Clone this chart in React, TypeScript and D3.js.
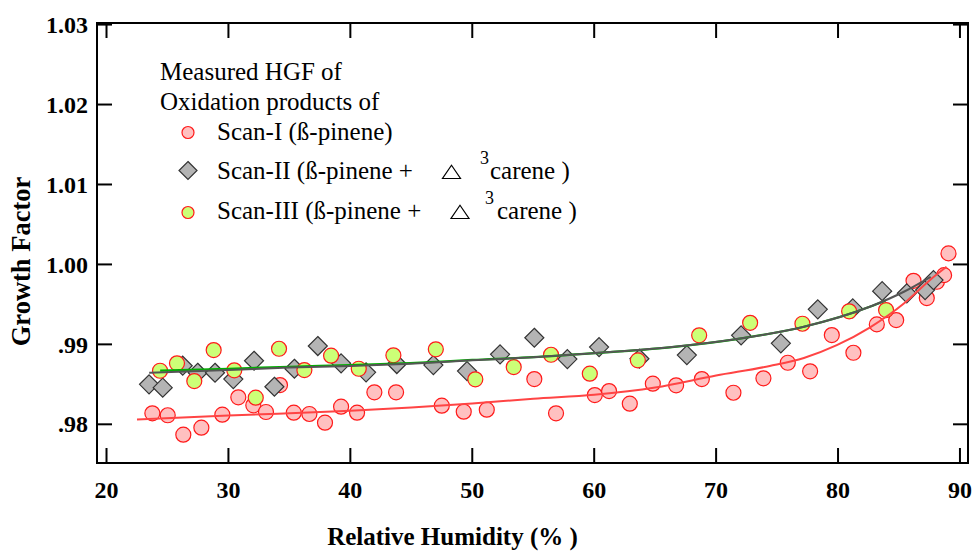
import React from "react";
import * as d3 from "d3";

// ---- data ----
const scan1X = [23.76, 25.02, 26.3, 27.78, 29.5, 30.81, 32.04, 33.08, 34.23, 35.36, 36.64, 37.92, 39.24, 40.55, 41.97, 43.75, 47.5, 49.3, 51.19, 55.09, 56.87, 60.05, 61.22, 62.92, 64.81, 66.72, 68.83, 71.42, 73.88, 75.88, 77.71, 79.49, 81.26, 83.18, 84.77, 86.19, 87.28, 88.11, 88.7, 89.06];
const scan1Y = [0.98138, 0.98113, 0.9787, 0.97958, 0.9812, 0.98338, 0.98238, 0.98154, 0.98491, 0.98145, 0.98129, 0.9802, 0.9822, 0.98145, 0.984, 0.984, 0.98233, 0.98158, 0.98183, 0.98566, 0.98138, 0.98366, 0.98416, 0.98258, 0.98508, 0.98488, 0.98566, 0.98395, 0.98575, 0.9877, 0.98663, 0.99116, 0.98895, 0.9925, 0.99304, 0.99795, 0.99579, 0.99783, 0.99866, 1.00138];

const scan2X = [23.49, 24.61, 26.25, 27.48, 28.9, 30.4, 32.1, 33.77, 35.41, 37.33, 39.24, 41.29, 43.81, 46.81, 49.57, 52.28, 55.09, 57.8, 60.4, 63.71, 67.6, 72.05, 75.31, 78.34, 81.21, 83.62, 85.64, 87.14, 87.83];
const scan2Y = [0.985, 0.98458, 0.98733, 0.98645, 0.98645, 0.98566, 0.98795, 0.9847, 0.98695, 0.98979, 0.98763, 0.9865, 0.98754, 0.98741, 0.98666, 0.98875, 0.99083, 0.98816, 0.98966, 0.9882, 0.98866, 0.99113, 0.99013, 0.99438, 0.9945, 0.99666, 0.99638, 0.99679, 0.99804];

const scan3X = [24.39, 25.78, 27.2, 28.79, 30.48, 32.24, 34.15, 36.23, 38.42, 40.69, 43.53, 47.01, 50.25, 53.4, 56.46, 59.64, 63.58, 68.61, 72.79, 77.08, 80.91, 83.94];
const scan3Y = [0.9867, 0.98763, 0.98541, 0.98929, 0.98675, 0.98333, 0.98945, 0.98679, 0.98858, 0.98695, 0.98863, 0.98938, 0.98563, 0.98716, 0.9887, 0.98633, 0.988, 0.99113, 0.9927, 0.99258, 0.99413, 0.99429];

const fit1X = [22.5, 30, 40, 45, 50, 55, 60, 65, 70, 74.4, 77.2, 79.9, 82.6, 85.4, 87.5, 88.9];
const fit1Y = [0.9806, 0.9811, 0.9817, 0.9821, 0.9826, 0.9832, 0.9837, 0.9846, 0.9861, 0.9873, 0.9883, 0.9899, 0.9921, 0.9951, 0.998, 0.9997];

const fit2X = [23.5, 30, 35, 40, 44.9, 50, 55, 60, 66.2, 71.7, 77.2, 82.6, 85.4, 87.6];
const fit2Y = [0.98645, 0.9868, 0.9871, 0.9873, 0.98758, 0.988, 0.98838, 0.9889, 0.98963, 0.99066, 0.9922, 0.9947, 0.99658, 0.99845];

const fit3X = [24.4, 30, 35, 40, 44.9, 50, 55, 60, 66.2, 71.7, 77.2, 82.6, 83.9];
const fit3Y = [0.98672, 0.98695, 0.9872, 0.9874, 0.98765, 0.98805, 0.9884, 0.9889, 0.98963, 0.99066, 0.9922, 0.9947, 0.9955];

const xTicks = [20, 30, 40, 50, 60, 70, 80, 90];
const yTicks = [0.98, 0.99, 1.0, 1.01, 1.02, 1.03];
const yTickLabels = [".98", ".99", "1.00", "1.01", "1.02", "1.03"];

const legendTitle = ["Measured HGF of", "Oxidation products of"];
const seriesNames = ["Scan-I (ß-pinene)", "Scan-II (ß-pinene +", "Scan-III (ß-pinene +"];

// ---- layout ----
const W = 974;
const H = 551;
const L = 97, R = 968, T = 23, B = 463;

const x = d3.scaleLinear().domain([19.22, 90.66]).range([L, R]);
const y = d3.scaleLinear().domain([0.97516, 1.0302]).range([B, T]);

const PINK = "#ffc0c0";
const RED = "#ff1a1a";
const GREEN = "#ccff77";
const GREY = "#b4b4b4";

const line = d3
  .line<[number, number]>()
  .x((d) => x(d[0]))
  .y((d) => y(d[1]))
  .curve(d3.curveMonotoneX);

const zip = (a: number[], b: number[]) => a.map((v, i) => [v, b[i]] as [number, number]);

const diamond = (cx: number, cy: number, s: number) =>
  `M${cx},${cy - s}L${cx + s},${cy}L${cx},${cy + s}L${cx - s},${cy}Z`;

const serif = "'Liberation Serif', 'Times New Roman', serif";

function Triangle({ cx, cy }: { cx: number; cy: number }) {
  const s = 9;
  return (
    <path
      d={`M${cx},${cy - s * 0.75}L${cx + s},${cy + s * 0.72}L${cx - s},${cy + s * 0.72}Z`}
      fill="none"
      stroke="#000"
      strokeWidth={1.2}
    />
  );
}

export default function App() {
  const p1 = zip(scan1X, scan1Y);
  const p2 = zip(scan2X, scan2Y);
  const p3 = zip(scan3X, scan3Y);
  return (
    <svg
      width={W}
      height={H}
      style={{ position: "absolute", left: 0, top: 0, background: "#fff" }}
      fontFamily={serif}
    >
      <rect x={0} y={0} width={W} height={H} fill="#fff" />
      {/* points */}
      {p1.map((d, i) => (
        <circle key={"a" + i} cx={x(d[0])} cy={y(d[1])} r={7.5} fill={PINK} stroke={RED} strokeWidth={1.2} />
      ))}
      {p2.map((d, i) => (
        <path key={"b" + i} d={diamond(x(d[0]), y(d[1]), 9.5)} fill={GREY} stroke="#333" strokeWidth={1.2} />
      ))}
      {p3.map((d, i) => (
        <circle key={"c" + i} cx={x(d[0])} cy={y(d[1])} r={7.5} fill={GREEN} stroke={RED} strokeWidth={1.2} />
      ))}
      {/* fits */}
      <path d={line(zip(fit1X, fit1Y)) || ""} fill="none" stroke="#ff4444" strokeWidth={2} />
      <path d={line(zip(fit3X, fit3Y)) || ""} fill="none" stroke="#00b000" strokeWidth={2.2} />
      <path d={line(zip(fit2X, fit2Y)) || ""} fill="none" stroke="#555" strokeWidth={2} />

      {/* frame */}
      <rect x={L} y={T} width={R - L} height={B - T} fill="none" stroke="#000" strokeWidth={2} />
      {xTicks.map((t) => (
        <g key={"xt" + t}>
          <line x1={x(t)} x2={x(t)} y1={B} y2={B - 15} stroke="#000" strokeWidth={2} />
          <line x1={x(t)} x2={x(t)} y1={T} y2={T + 15} stroke="#000" strokeWidth={2} />
          <text x={x(t)} y={498} textAnchor="middle" fontSize={24} fontWeight="bold">
            {t}
          </text>
        </g>
      ))}
      {yTicks.map((t, i) => (
        <g key={"yt" + t}>
          <line x1={L} x2={L + 15} y1={y(t)} y2={y(t)} stroke="#000" strokeWidth={2} />
          <line x1={R} x2={R - 15} y1={y(t)} y2={y(t)} stroke="#000" strokeWidth={2} />
          <text x={88} y={y(t)} dy="0.34em" textAnchor="end" fontSize={24} fontWeight="bold">
            {yTickLabels[i]}
          </text>
        </g>
      ))}
      <text x={452.5} y={545} textAnchor="middle" fontSize={25} fontWeight="bold">
        Relative Humidity (% )
      </text>
      <text transform="translate(30,261.5) rotate(-90)" textAnchor="middle" fontSize={26.5} fontWeight="bold">
        Growth Factor
      </text>

      {/* legend */}
      <text x={160} y={80} fontSize={25}>{legendTitle[0]}</text>
      <text x={160} y={110} fontSize={25}>{legendTitle[1]}</text>

      <circle cx={188} cy={132.5} r={6} fill={PINK} stroke={RED} strokeWidth={1.2} />
      <text x={217} y={140} fontSize={25}>{seriesNames[0]}</text>

      <path d={diamond(188, 170.5, 9)} fill={GREY} stroke="#333" strokeWidth={1.2} />
      <text x={217} y={178.5} fontSize={25}>{seriesNames[1]}</text>
      <Triangle cx={451.5} cy={172} />
      <text x={480} y={164} fontSize={18}>3</text>
      <text x={490} y={178.5} fontSize={25}>carene )</text>

      <circle cx={188} cy={212.5} r={6} fill={GREEN} stroke={RED} strokeWidth={1.2} />
      <text x={217} y={218.5} fontSize={25}>{seriesNames[2]}</text>
      <Triangle cx={460} cy={212} />
      <text x={485} y={204} fontSize={18}>3</text>
      <text x={497} y={218.5} fontSize={25}>carene )</text>
    </svg>
  );
}
